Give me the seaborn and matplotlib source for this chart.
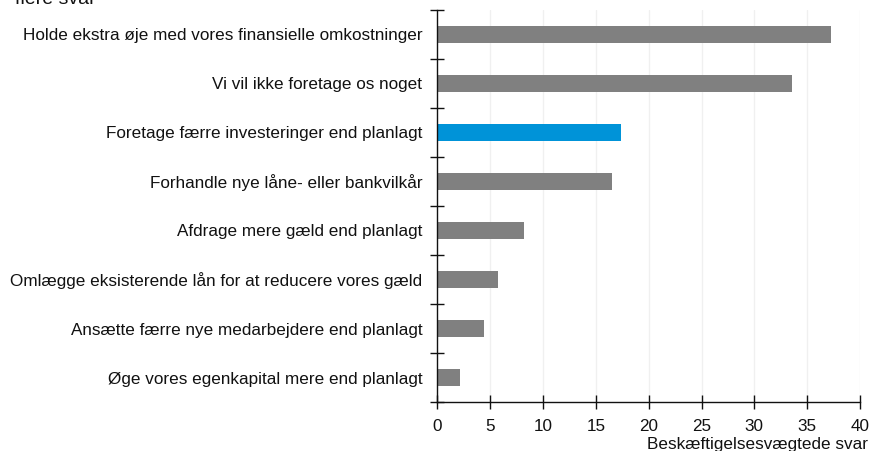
import matplotlib
matplotlib.use("Agg")
import matplotlib.pyplot as plt
import seaborn as sns
import pandas as pd
import numpy as np

categories = [
    "Holde ekstra øje med vores finansielle omkostninger",
    "Vi vil ikke foretage os noget",
    "Foretage færre investeringer end planlagt",
    "Forhandle nye låne- eller bankvilkår",
    "Afdrage mere gæld end planlagt",
    "Omlægge eksisterende lån for at reducere vores gæld",
    "Ansætte færre nye medarbejdere end planlagt",
    "Øge vores egenkapital mere end planlagt",
]
values = [37.3, 33.6, 17.4, 16.5, 8.2, 5.7, 4.4, 2.1]
highlight = "Foretage færre investeringer end planlagt"
xticks = [0, 5, 10, 15, 20, 25, 30, 35, 40]
xlabel = "Beskæftigelsesvægtede svar"
title_tail = "flere svar"

GRAY = "#808080"
BLUE = "#0093d8"
TXT = "#111111"
FS = 12.3

sns.set_style("white")
plt.rcParams["font.family"] = ["Liberation Sans", "DejaVu Sans"]

df = pd.DataFrame({"cat": categories, "val": values})
palette = {c: (BLUE if c == highlight else GRAY) for c in categories}

fig = plt.figure(figsize=(8.79, 4.51), dpi=100)
ax = fig.add_axes([0.4977, 0.1086, 0.4807, 0.8694])

sns.barplot(data=df, x="val", y="cat", hue="cat", palette=palette,
            orient="h", width=0.34, dodge=False, legend=False, ax=ax,
            saturation=1, edgecolor="none")

ax.set_xlim(0, 40)
ax.set_ylim(len(categories) - 0.5, -0.5)
ax.set_xticks(xticks)
ax.set_xticklabels([str(t) for t in xticks], fontsize=FS, color=TXT)
ax.set_xlabel("")
ax.set_ylabel("")

ax.set_yticks(np.arange(len(categories)))
ax.set_yticklabels(categories, fontsize=FS, color=TXT)
ax.set_yticks(np.arange(len(categories) + 1) - 0.5, minor=True)
ax.tick_params(axis="y", which="major", left=True, length=0, pad=11)
ax.tick_params(axis="y", which="minor", left=True, length=10, direction="inout",
               width=1, color=TXT)
ax.tick_params(axis="x", which="major", bottom=True, length=10, direction="inout",
               width=1, color=TXT, pad=7)

for x in xticks[1:]:
    ax.axvline(x, color="#f0f0f0", lw=1, zorder=0)

for s in ["top", "right"]:
    ax.spines[s].set_visible(False)
for s in ["left", "bottom"]:
    ax.spines[s].set_color(TXT)
    ax.spines[s].set_linewidth(1)

fig.text(868 / 879, 1 - 449 / 451, xlabel, ha="right", va="baseline", fontsize=FS, color=TXT)
fig.text(15 / 879, 1 - 4 / 451, title_tail, ha="left", va="baseline", fontsize=14, color=TXT)

fig.savefig("out.png", dpi=100)
